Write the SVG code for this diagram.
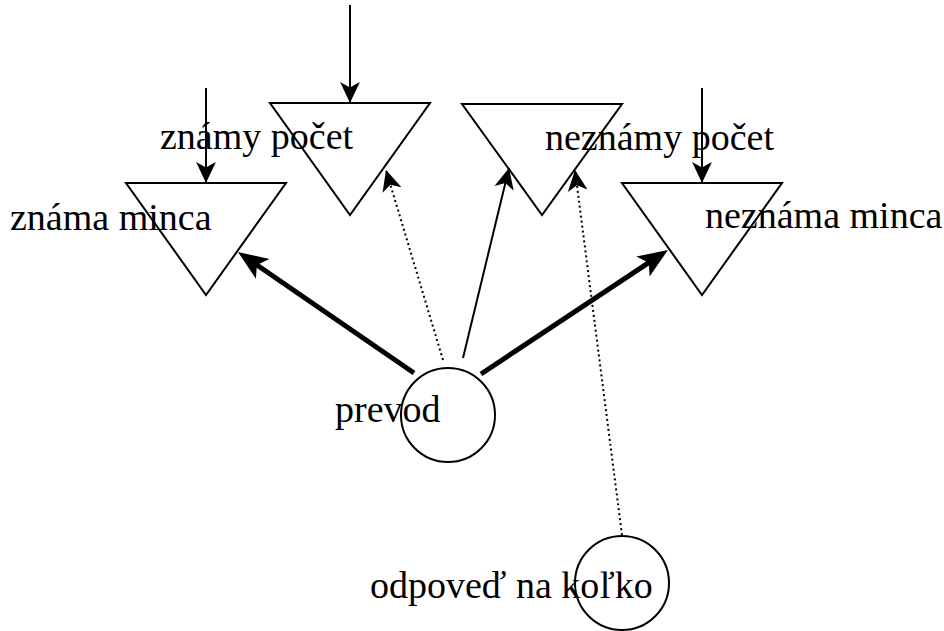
<svg xmlns="http://www.w3.org/2000/svg" width="944" height="631" viewBox="0 0 944 631">
<style>
.shape{fill:#fff;stroke:#000;stroke-width:2}
.lbl{font-family:"Liberation Serif","Times New Roman",serif;font-size:38px;fill:#000}
.thin{stroke:#000;stroke-width:2;fill:none}
.thick{stroke:#000;stroke-width:5;fill:none}
.dot{stroke:#000;stroke-width:2;stroke-dasharray:2 3;fill:none}
</style>
<defs>
<marker id="ah" markerUnits="userSpaceOnUse" markerWidth="22" markerHeight="22" viewBox="0 -10 20 20" refX="19" refY="0" orient="auto"><path d="M0,-9 L19,0 L0,9 L5,0 Z" fill="#000"/></marker>
<marker id="ahb" markerUnits="userSpaceOnUse" markerWidth="32" markerHeight="28" viewBox="0 -14 32 28" refX="16" refY="0" orient="auto"><path d="M0,-12 L30,0 L0,12 L7,0 Z" fill="#000"/></marker>
</defs>
<rect width="944" height="631" fill="#fff"/>
<g id="znama-minca"><polygon class="shape" points="126,183 286,183 206,295"/><text class="lbl" x="10" y="230">známa minca</text></g>
<g id="znamy-pocet"><polygon class="shape" points="270,103 430,103 350,215"/><text class="lbl" x="160" y="149">známy počet</text></g>
<g id="neznamy-pocet"><polygon class="shape" points="462,104 622,104 542,215"/><text class="lbl" x="545" y="150">neznámy počet</text></g>
<g id="neznama-minca"><polygon class="shape" points="622,183 782,183 702,295"/><text class="lbl" x="705" y="228">neznáma minca</text></g>
<g id="prevod"><circle class="shape" cx="448" cy="415" r="47"/><text class="lbl" x="335" y="422">prevod</text></g>
<g id="odpoved"><circle class="shape" cx="622" cy="583" r="47"/><text class="lbl" x="370" y="598">odpoveď na koľko</text></g>
<g id="connectors">
<line class="thin" x1="206" y1="88" x2="206" y2="183" marker-end="url(#ah)"/>
<line class="thin" x1="350" y1="5" x2="350" y2="103" marker-end="url(#ah)"/>
<line class="thin" x1="702" y1="88" x2="702" y2="183" marker-end="url(#ah)"/>
<line class="thick" x1="414" y1="373" x2="249.5" y2="259.9" marker-end="url(#ahb)"/>
<line class="thick" x1="481" y1="374" x2="656.3" y2="257.7" marker-end="url(#ahb)"/>
<line class="thin" x1="463" y1="358" x2="509" y2="168" marker-end="url(#ah)"/>
<line class="dot" x1="443" y1="360" x2="386" y2="170" marker-end="url(#ah)"/>
<line class="dot" x1="622" y1="535" x2="575" y2="170" marker-end="url(#ah)"/>
</g>
</svg>
